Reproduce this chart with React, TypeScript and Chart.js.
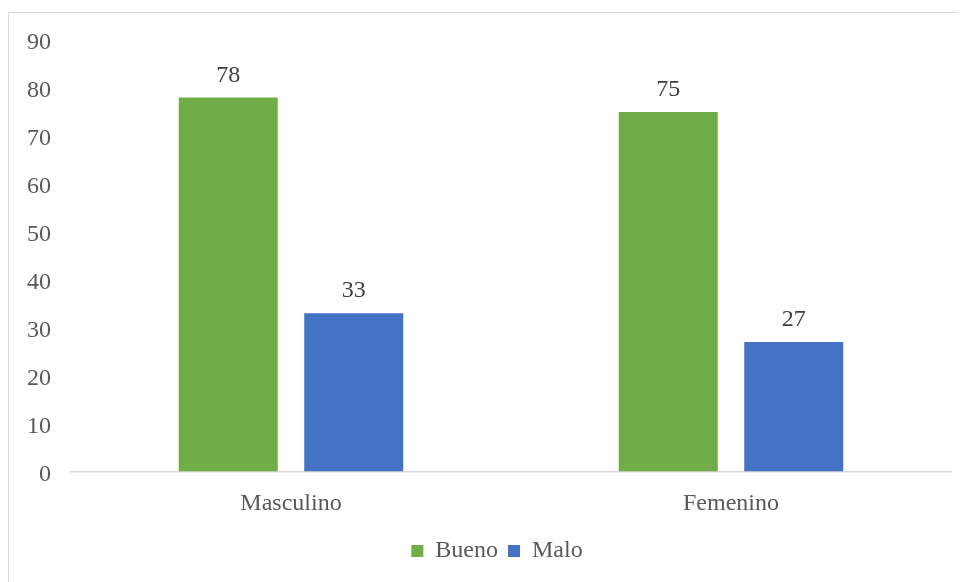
import React, { useEffect, useRef } from "react";
import { Chart, registerables } from "chart.js";

Chart.register(...registerables);

const categories = ["Masculino", "Femenino"];
const seriesNames = ["Bueno", "Malo"];
const buenoValues = [78, 75];
const maloValues = [33, 27];
const yTicks = [0, 10, 20, 30, 40, 50, 60, 70, 80, 90];

const GREEN = "#70AD47";
const BLUE = "#4472C4";
const FONT = "'Liberation Serif', 'Times New Roman', serif";
const FONT_SIZE = 24;

// Writes each bar's value just above it
const valueLabels = {
  id: "valueLabels",
  afterDatasetsDraw(chart: any) {
    const ctx = chart.ctx;
    ctx.save();
    ctx.font = `${FONT_SIZE}px ${FONT}`;
    ctx.fillStyle = "#404040";
    ctx.textAlign = "center";
    ctx.textBaseline = "alphabetic";
    chart.data.datasets.forEach((ds: any, di: number) => {
      const meta = chart.getDatasetMeta(di);
      meta.data.forEach((bar: any, i: number) => {
        ctx.fillText(String(ds.data[i]), bar.x, bar.y - 16);
      });
    });
    ctx.restore();
  },
};

// Nudges the legend row a little to the right of the plot centre
const legendShift = {
  id: "legendShift",
  afterLayout(chart: any) {
    const lg = chart.legend;
    if (lg) {
      lg.left += 17;
      lg.right += 17;
    }
  },
};

export default function App() {
  const ref = useRef<HTMLCanvasElement>(null);

  useEffect(() => {
    if (!ref.current) return;
    const chart = new Chart(ref.current, {
      type: "bar",
      data: {
        labels: categories,
        datasets: [
          {
            label: seriesNames[0],
            data: buenoValues,
            backgroundColor: GREEN,
            categoryPercentage: 0.5705,
            barPercentage: 0.789,
          },
          {
            label: seriesNames[1],
            data: maloValues,
            backgroundColor: BLUE,
            categoryPercentage: 0.5705,
            barPercentage: 0.789,
          },
        ],
      },
      options: {
        animation: false,
        responsive: false,
        maintainAspectRatio: false,
        layout: { padding: { top: 27, right: 15, bottom: 9, left: 0 } },
        scales: {
          x: {
            grid: { display: false, drawTicks: false, tickLength: 0 },
            border: { display: true, color: "#d9d9d9", width: 1.5 },
            ticks: {
              color: "#595959",
              font: { family: FONT, size: FONT_SIZE },
              padding: 18,
            },
            afterFit(scale: any) {
              scale.height = 57.5;
              scale.paddingLeft = 0;
              scale.paddingRight = 0;
            },
          },
          y: {
            min: 0,
            max: 90,
            afterBuildTicks(scale: any) {
              scale.ticks = yTicks.map((v) => ({ value: v }));
            },
            grid: { display: false, drawTicks: false, tickLength: 0 },
            border: { display: false },
            ticks: {
              color: "#595959",
              font: { family: FONT, size: FONT_SIZE },
              padding: 20,
              labelOffset: 3,
            },
            afterFit(scale: any) {
              scale.width = 62;
              scale.paddingTop = 0;
              scale.paddingBottom = 0;
            },
          },
        },
        plugins: {
          legend: {
            position: "bottom",
            labels: {
              boxWidth: 12,
              boxHeight: 12,
              padding: 10,
              color: "#595959",
              font: { family: FONT, size: FONT_SIZE },
            },
          },
          tooltip: { enabled: false },
        },
      },
      plugins: [valueLabels, legendShift],
    });
    return () => chart.destroy();
  }, []);

  return (
    <div
      style={{
        marginTop: 4,
        width: 957,
        height: 569,
        borderTop: "1px solid #d9d9d9",
        borderLeft: "1px solid #d9d9d9",
        background: "#fff",
      }}
    >
      <canvas ref={ref} width={957} height={569} style={{ display: "block" }} />
    </div>
  );
}
